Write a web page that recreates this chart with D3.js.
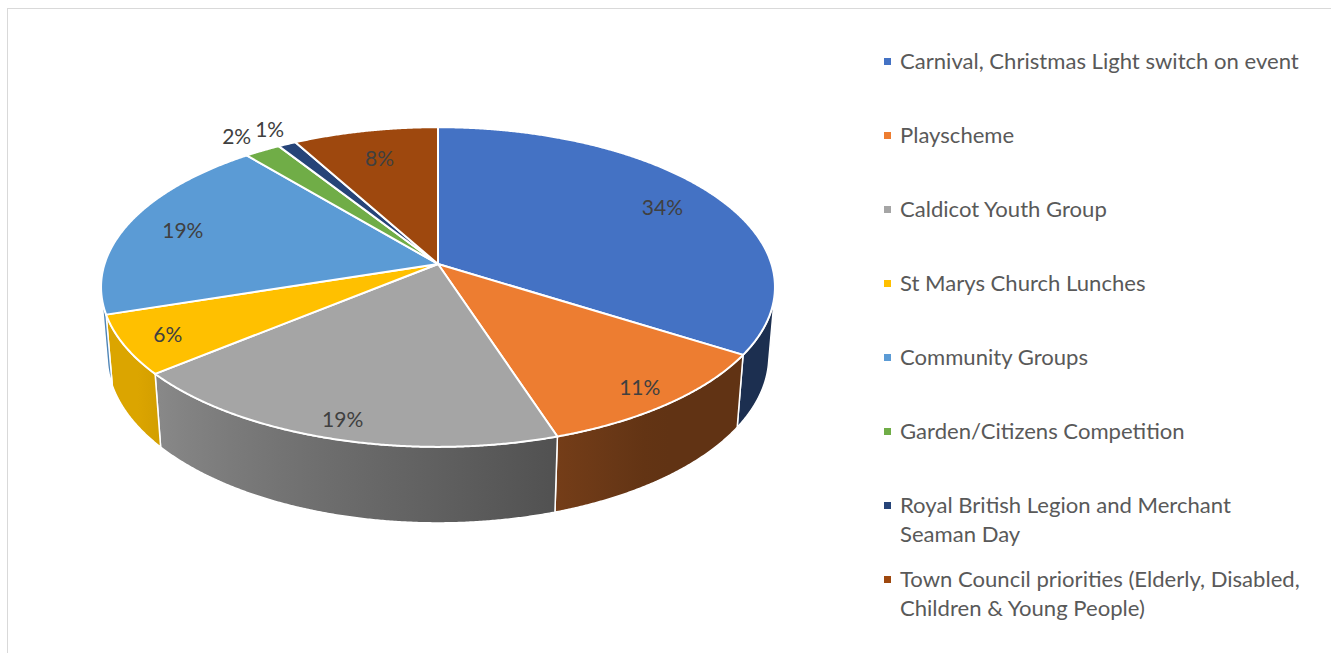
<!DOCTYPE html>
<html>
<head>
<meta charset="utf-8">
<script src="https://cdn.jsdelivr.net/npm/d3@7"></script>
<style>
  body { margin: 0; background: #fff; }
  svg { display: block; }
</style>
</head>
<body>
<svg id="chart"></svg>
<script>
// values (percent)
const categories = [
  "Carnival, Christmas Light switch on event",
  "Playscheme",
  "Caldicot Youth Group",
  "St Marys Church Lunches",
  "Community Groups",
  "Garden/Citizens Competition",
  "Royal British Legion and Merchant Seaman Day",
  "Town Council priorities (Elderly, Disabled, Children & Young People)"
];
const values = [34, 11, 19, 6, 19, 2, 1, 8];
const colors = ["#4472C4", "#ED7D31", "#A5A5A5", "#FFC000", "#5B9BD5", "#70AD47", "#264478", "#9E480E"];

const width = 1331, height = 653;
const cx = 438, cy = 264;
const tilt = 28 * Math.PI / 180;   // viewing elevation
const dist = 6.13;                 // camera distance, in pie radii
const focal = 2044;
const thick = 0.237;               // pie height, in pie radii
const fontFamily = "Lato, 'Open Sans', sans-serif";

const svg = d3.select("#chart")
    .attr("width", width)
    .attr("height", height);

// chart border (only top/left visible)
svg.append("rect")
    .attr("x", 7.5).attr("y", 8.5)
    .attr("width", width + 20).attr("height", height + 20)
    .attr("fill", "none")
    .attr("stroke", "#d9d9d9");

// project a point of the disk (angle clockwise from 12 o'clock, radius r, height h)
function project(phi, r, h) {
    let X = r * Math.sin(phi), Z = -r * Math.cos(phi), Y = h;
    let u = Y * Math.cos(tilt) - Z * Math.sin(tilt);
    let w = dist - (Y * Math.sin(tilt) + Z * Math.cos(tilt));
    return [cx + focal * X / w, cy - focal * u / w];
}

function shade(phi) {
    let deg = phi * 180 / Math.PI;
    let t = Math.max(0, Math.min(1, (deg - 146) / (236 - 146)));
    return 0.41 + t * (0.86 - 0.41);
}

function darker(c, f) {
    let rgb = d3.rgb(c);
    return d3.rgb(rgb.r * f, rgb.g * f, rgb.b * f).formatHex();
}

function arcPoints(a0, a1, h) {
    let n = Math.max(2, Math.ceil(Math.abs(a1 - a0) / 0.005));
    return d3.range(n + 1).map(i => project(a0 + (a1 - a0) * i / n, 1, h));
}

const arcs = d3.pie().sort(null).value(d => d)(values);
const line = d3.line();

// visible front part of the outer wall
const visMin = Math.acos(-1 / (dist * Math.cos(tilt)));
const visMax = 2 * Math.PI - visMin;

const defs = svg.append("defs");
const walls = svg.append("g");

arcs.forEach((a, i) => {
    let a0 = Math.max(a.startAngle, visMin);
    let a1 = Math.min(a.endAngle, visMax);
    if (a1 <= a0) return;
    let x0 = project(a1, 1, 0)[0], x1 = project(a0, 1, 0)[0];
    let grad = defs.append("linearGradient")
        .attr("id", "wall" + i)
        .attr("gradientUnits", "userSpaceOnUse")
        .attr("x1", x0).attr("x2", x1).attr("y1", 0).attr("y2", 0);
    d3.range(9).forEach(k => {
        let phi = a1 + (a0 - a1) * k / 8;
        let x = project(phi, 1, 0)[0];
        grad.append("stop")
            .attr("offset", x1 > x0 ? (x - x0) / (x1 - x0) : 0)
            .attr("stop-color", darker(colors[i], shade(phi)));
    });
    let pts = arcPoints(a0, a1, 0).concat(arcPoints(a1, a0, -thick));
    walls.append("path")
        .attr("d", line(pts) + "Z")
        .attr("fill", `url(#wall${i})`)
        .attr("stroke", "#fff")
        .attr("stroke-width", 1.5)
        .attr("stroke-linejoin", "round");
});

// top faces
const tops = svg.append("g");
arcs.forEach((a, i) => {
    let pts = [project(0, 0, 0)].concat(arcPoints(a.startAngle, a.endAngle, 0));
    tops.append("path")
        .attr("d", line(pts) + "Z")
        .attr("fill", colors[i])
        .attr("stroke", "#fff")
        .attr("stroke-width", 2)
        .attr("stroke-linejoin", "round");
});

// data labels
const labels = svg.append("g")
    .attr("font-family", fontFamily)
    .attr("font-size", 21)
    .attr("fill", "#404040");
let labelNodes = arcs.map((a, i) => {
    let mid = (a.startAngle + a.endAngle) / 2;
    let outside = values[i] < 3;
    let r = outside ? 1.15 : 0.84 - 0.06 * Math.cos(mid);
    let p = project(mid, r, 0);
    let t = labels.append("text")
        .attr("x", p[0]).attr("y", p[1])
        .attr("text-anchor", "middle")
        .attr("dominant-baseline", "central")
        .text(values[i] + "%");
    return { t: t, x: p[0], w: t.node().getComputedTextLength(), outside: outside };
});
// push neighbouring outside labels apart
for (let i = 1; i < labelNodes.length; i++) {
    let a = labelNodes[i - 1], b = labelNodes[i];
    if (!a.outside || !b.outside) continue;
    let overlap = (a.x + a.w / 2 + 4) - (b.x - b.w / 2);
    if (overlap > 0) {
        a.x -= overlap / 2; b.x += overlap / 2;
        a.t.attr("x", a.x); b.t.attr("x", b.x);
    }
}

// legend
const legend = svg.append("g")
    .attr("font-family", fontFamily)
    .attr("fill", "#595959");
let probe = legend.append("text").attr("font-size", 20).text(categories[0]);
let legendSize = 20 * 399 / probe.node().getComputedTextLength();
probe.remove();
legend.attr("font-size", legendSize);

function wrap(str, maxW) {
    let words = str.split(" "), out = [], cur = "";
    let t = legend.append("text");
    words.forEach(w => {
        let test = cur ? cur + " " + w : w;
        t.text(test);
        if (t.node().getComputedTextLength() > maxW && cur) { out.push(cur); cur = w; }
        else cur = test;
    });
    t.remove();
    out.push(cur);
    return out;
}

categories.forEach((c, i) => {
    let base = 69 + 74 * i;
    legend.append("rect")
        .attr("x", 884).attr("y", base - 11)
        .attr("width", 7).attr("height", 7)
        .attr("fill", colors[i]);
    let t = legend.append("text").attr("x", 900).attr("y", base);
    wrap(c, 408).forEach((ln, j) => {
        t.append("tspan").attr("x", 900).attr("dy", j ? 29 : 0).text(ln);
    });
});
</script>
</body>
</html>
